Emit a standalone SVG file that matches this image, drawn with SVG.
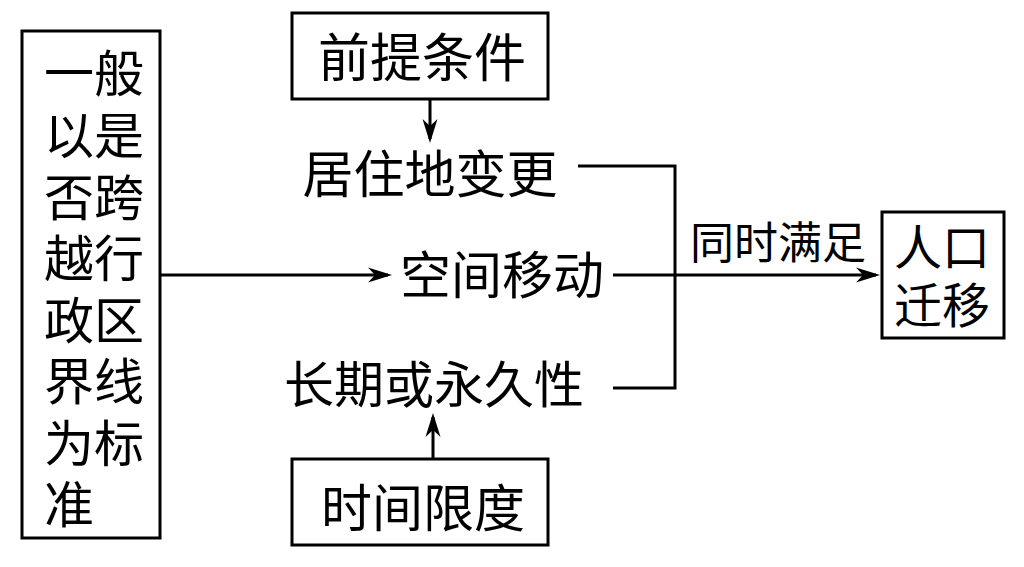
<svg xmlns="http://www.w3.org/2000/svg" width="1024" height="567" viewBox="0 0 1024 567">
<style>
.box{fill:#fff;stroke:#000;stroke-width:3}
.ln{fill:none;stroke:#000;stroke-width:3}
.t{font-family:"Liberation Serif","Noto Sans CJK SC",serif;fill:#000}
</style>
<defs>
<marker id="arr" markerUnits="userSpaceOnUse" viewBox="-26 -9 28 18" refX="-4" refY="0" markerWidth="28" markerHeight="18" orient="auto">
<path d="M0,0 L-24,-7.5 L-17,0 L-24,7.5 Z" fill="#000"/>
</marker>
</defs>
<rect width="1024" height="567" fill="#fff"/>
<g id="connectors">
<path class="ln" d="M430,99 V139" marker-end="url(#arr)"/>
<path class="ln" d="M433,459 V417" marker-end="url(#arr)"/>
<path class="ln" d="M160,275 H388" marker-end="url(#arr)"/>
<path class="ln" d="M578,166 H675 V388 H613"/>
<path class="ln" d="M613,275 H876" marker-end="url(#arr)"/>
<text class="t" x="690" y="259" font-size="44">同时满足</text>
</g>
<g id="standard">
<rect class="box" x="22" y="31" width="138" height="507"/>
<g class="t" font-size="50">
<text x="44" y="92">一般</text>
<text x="44" y="154">以是</text>
<text x="44" y="216">否跨</text>
<text x="44" y="277">越行</text>
<text x="44" y="339">政区</text>
<text x="44" y="400">界线</text>
<text x="44" y="462">为标</text>
<text x="44" y="523">准</text>
</g>
</g>
<g id="premise">
<rect class="box" x="292" y="13" width="256" height="86"/>
<text class="t" x="422" y="77" font-size="52" text-anchor="middle">前提条件</text>
</g>
<g id="residence">
<text class="t" x="430" y="193" font-size="51" text-anchor="middle">居住地变更</text>
</g>
<g id="movement">
<text class="t" x="502" y="294" font-size="51" text-anchor="middle">空间移动</text>
</g>
<g id="longterm">
<text class="t" x="434" y="403" font-size="50" text-anchor="middle">长期或永久性</text>
</g>
<g id="timelimit">
<rect class="box" x="292" y="459" width="256" height="86"/>
<text class="t" x="423" y="527" font-size="51" text-anchor="middle">时间限度</text>
</g>
<g id="migration">
<rect class="box" x="882" y="212" width="122" height="126"/>
<text class="t" x="942" y="265" font-size="48" text-anchor="middle">人口</text>
<text class="t" x="942" y="323" font-size="48" text-anchor="middle">迁移</text>
</g>
</svg>
